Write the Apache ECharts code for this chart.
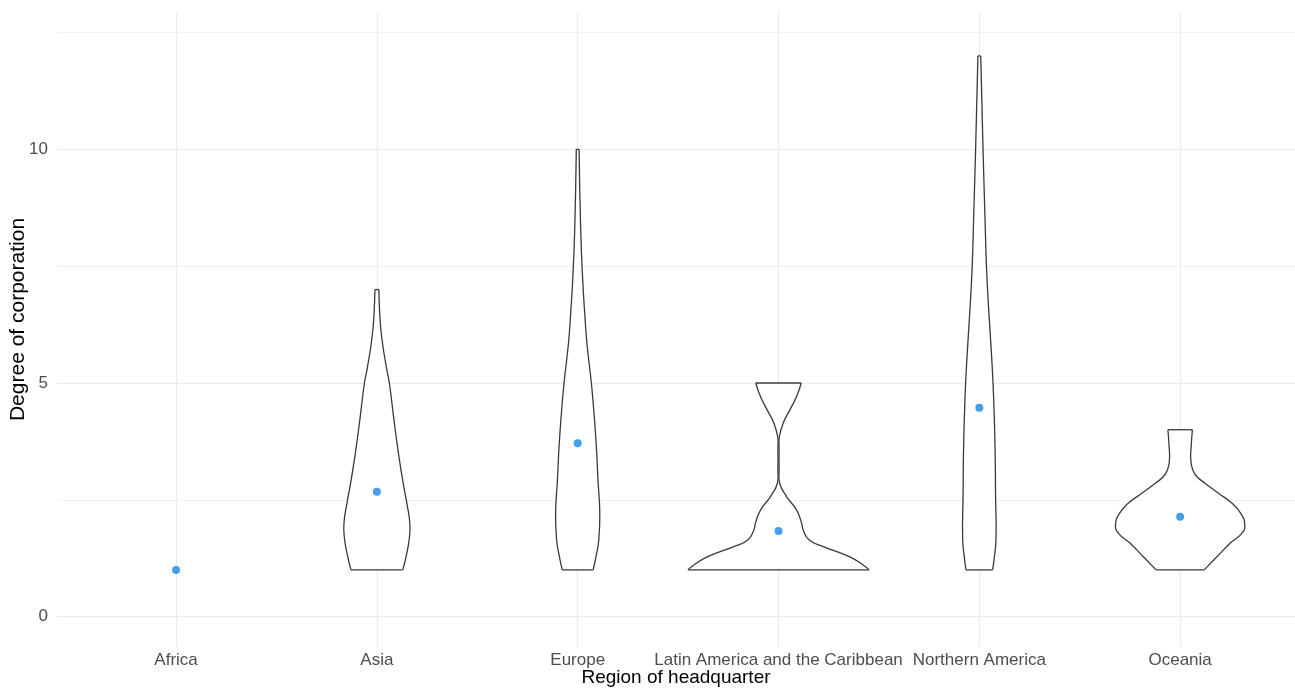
<!DOCTYPE html>
<html>
<head>
<meta charset="utf-8">
<script src="https://cdn.jsdelivr.net/npm/echarts@6/dist/echarts.min.js"></script>
<style>
html,body{margin:0;padding:0;background:#fff;}
#chart{width:1295px;height:689px;}
</style>
</head>
<body>
<div id="chart"></div>
<script>
// Categories (x positions 1..6)
var categories = ['Africa', 'Asia', 'Europe', 'Latin America and the Caribbean', 'Northern America', 'Oceania'];
// Mean degree per region (blue points)
var means = [1.0, 2.67, 3.71, 1.83, 4.47, 2.14];
// Violin outlines: [degree, half-width in category units]
var violinAsia = [[1.0,0.129],[1.36,0.149],[1.7,0.162],[2.0,0.164],[2.43,0.149],[2.78,0.134],[3.42,0.110],[4.21,0.085],[5.0,0.062],[5.34,0.047],[5.98,0.024],[6.5,0.014],[7.0,0.010]];
var violinEurope = [[1.0,0.077],[1.28,0.091],[1.64,0.105],[2.22,0.110],[2.92,0.101],[3.63,0.093],[4.36,0.081],[5.0,0.068],[5.85,0.046],[6.49,0.035],[7.2,0.025],[8.27,0.015],[10.0,0.007]];
var violinLatAm = [[1.0,0.451],[1.1,0.423],[1.28,0.355],[1.5,0.223],[1.64,0.153],[1.85,0.123],[2.0,0.115],[2.28,0.090],[2.57,0.040],[2.85,0.006],[3.14,0.003],[3.64,0.003],[3.85,0.004],[4.14,0.023],[4.42,0.056],[4.71,0.090],[5.0,0.113]];
var violinNorthAm = [[1.0,0.066],[1.21,0.073],[1.66,0.083],[2.56,0.081],[3.69,0.078],[4.82,0.070],[5.58,0.061],[6.48,0.048],[7.45,0.036],[8.58,0.028],[10.08,0.018],[12.0,0.007]];
var violinOceania = [[1.0,0.120],[1.28,0.183],[1.57,0.249],[1.78,0.307],[1.96,0.322],[2.21,0.302],[2.43,0.257],[2.64,0.191],[2.85,0.125],[3.0,0.083],[3.14,0.063],[3.35,0.053],[3.71,0.056],[4.0,0.061]];
// Which category each violin belongs to (index into categories)
var violinCategory = [1, 2, 3, 4, 5];
var violinProfiles = [violinAsia, violinEurope, violinLatAm, violinNorthAm, violinOceania];
// Tick / gridline values
var yTickLabels = [0, 5, 10];
var yMajorGrid = [0, 5, 10];
var yMinorGrid = [2.5, 7.5, 12.5];

var chart = echarts.init(document.getElementById('chart'), null, {renderer: 'canvas'});

var catPositions = categories.map(function (c, i) { return i + 1; });
var FONT = 'Liberation Sans, Arial, sans-serif';

var gridLines = []
  .concat(yMajorGrid.map(function (v) { return {yAxis: v, lineStyle: {color: '#ebebeb', width: 1.1}}; }))
  .concat(yMinorGrid.map(function (v) { return {yAxis: v, lineStyle: {color: '#f1f1f1', width: 1}}; }))
  .concat(catPositions.map(function (v) { return {xAxis: v, lineStyle: {color: '#ebebeb', width: 1.1}}; }));

var violinData = violinCategory.map(function (c, i) {
  var ys = violinProfiles[i].map(function (p) { return p[0]; });
  return [c + 1, Math.max.apply(null, ys)];
});

var option = {
  animation: false,
  backgroundColor: '#ffffff',
  grid: {left: 57, right: 0, top: 12, bottom: 42, containLabel: false, outerBoundsMode: 'none'},
  xAxis: {
    type: 'value',
    min: 0.407,
    max: 6.572,
    axisLine: {show: false},
    axisTick: {show: false},
    splitLine: {show: false},
    axisLabel: {
      customValues: catPositions,
      formatter: function (v) { return categories[Math.round(v) - 1] || ''; },
      color: '#4d4d4d',
      fontSize: 17,
      fontFamily: FONT,
      margin: 5
    },
    name: 'Region of headquarter',
    nameLocation: 'middle',
    nameGap: 21,
    nameMoveOverlap: false,
    nameTextStyle: {color: '#000000', fontSize: 19, fontFamily: FONT}
  },
  yAxis: {
    type: 'value',
    min: -0.65,
    max: 12.94,
    axisLine: {show: false},
    axisTick: {show: false},
    splitLine: {show: false},
    axisLabel: {
      customValues: yTickLabels,
      color: '#4d4d4d',
      fontSize: 17,
      fontFamily: FONT,
      margin: 9
    },
    name: 'Degree of corporation',
    nameLocation: 'middle',
    nameGap: 28,
    nameMoveOverlap: false,
    nameTextStyle: {color: '#000000', fontSize: 21, fontFamily: FONT, padding: [0, 0, 0, 20]}
  },
  series: [
    {
      type: 'scatter',
      data: [],
      z: 1,
      silent: true,
      markLine: {
        silent: true,
        z: 1,
        symbol: ['none', 'none'],
        label: {show: false},
        lineStyle: {type: 'solid'},
        data: gridLines
      }
    },
    {
      type: 'custom',
      z: 10,
      data: violinData,
      encode: {x: 0, y: 1},
      renderItem: function (params, api) {
        var profile = violinProfiles[params.dataIndex];
        var cx = api.value(0);
        var right = profile.map(function (p) { return api.coord([cx + p[1], p[0]]); });
        var left = profile.map(function (p) { return api.coord([cx - p[1], p[0]]); });
        var poly = right.concat(left.slice().reverse());
        var stroke = {stroke: '#3a3a3a', lineWidth: 1.3, fill: null};
        var n = profile.length - 1;
        return {
          type: 'group',
          children: [
            {type: 'polygon', shape: {points: poly, smooth: 0}, style: {fill: '#ffffff', stroke: null}},
            {type: 'polyline', shape: {points: right, smooth: 0.5}, style: stroke},
            {type: 'polyline', shape: {points: left, smooth: 0.5}, style: stroke},
            {type: 'line', shape: {x1: left[0][0], y1: left[0][1], x2: right[0][0], y2: right[0][1]}, style: stroke},
            {type: 'line', shape: {x1: left[n][0], y1: left[n][1], x2: right[n][0], y2: right[n][1]}, style: stroke}
          ]
        };
      }
    },
    {
      type: 'scatter',
      z: 11,
      symbol: 'circle',
      symbolSize: 8,
      itemStyle: {color: '#1787e6', borderWidth: 0},
      data: means.map(function (m, i) { return [i + 1, m]; })
    }
  ]
};
chart.setOption(option);
</script>
</body>
</html>
